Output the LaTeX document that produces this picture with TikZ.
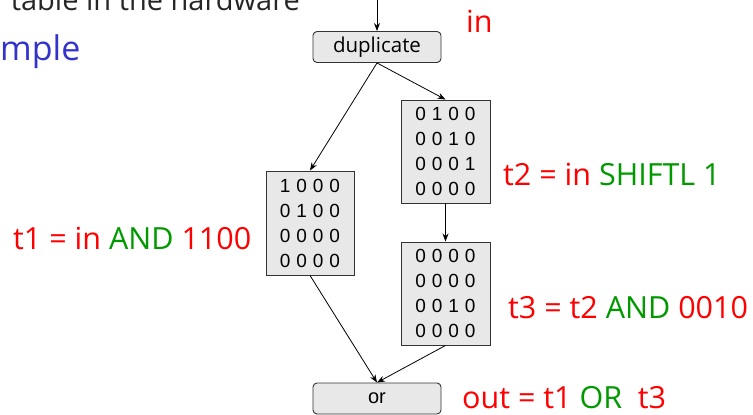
\documentclass[tikz,border=0pt]{standalone}
\usepackage{fontspec}
\setmainfont{Open Sans}
\newfontfamily\matfont{Liberation Sans}
\usetikzlibrary{arrows.meta}
\definecolor{opred}{HTML}{FF0000}
\definecolor{opgreen}{HTML}{009900}
\definecolor{headblue}{HTML}{3333CC}
\definecolor{boxfill}{HTML}{E8E8E8}
\definecolor{boxline}{HTML}{333333}
\newcommand\mrow[4]{\makebox[16.5pt]{#1}\makebox[16.5pt]{#2}\makebox[16.5pt]{#3}\makebox[16.5pt]{#4}}
\tikzset{
  opbox/.style={draw=boxline, fill=boxfill, rounded corners=4pt, line width=0.9pt,
    minimum width=128pt, minimum height=31pt, inner sep=0pt},
  matbox/.style={draw=boxline, fill=boxfill, line width=0.9pt, inner sep=0pt,
    minimum width=89pt, minimum height=103pt, align=center,
    font=\matfont\fontsize{19}{25}\selectfont},
  flow/.style={-{Stealth[length=8pt,width=6pt]}, line width=0.8pt},
  eqlabel/.style={font=\fontsize{30.5}{34}\selectfont, text=opred, inner sep=0pt, anchor=base west}
}
\begin{document}
\begin{tikzpicture}[x=1pt,y=-1pt]
  \useasboundingbox (0,0) rectangle (753,415);
  \clip (0,0) rectangle (753,415);

  % slide text behind the diagram
  \node[anchor=base east, inner sep=0pt, font=\fontsize{29}{34}\selectfont, text=black!85]
    (hdr) at (300,10) {table in the hardware};
  \node[anchor=base west, inner sep=0pt, font=\fontsize{34}{40}\selectfont, text=headblue]
    (sub) at (0,60) {mple};

  % operation boxes
  \node[opbox, font=\fontsize{20.5}{24}\selectfont] (dup) at (377,47) {duplicate};
  \node[opbox, font=\matfont\fontsize{20}{24}\selectfont] (orbox) at (377,398.5) {or};

  % bit matrices
  \node[matbox, minimum width=88pt, minimum height=104pt] (m1) at (310,223)
    {\mrow1000\\ \mrow0100\\ \mrow0000\\ \mrow0000};
  \node[matbox] (m2) at (445.5,151.5)
    {\mrow0100\\ \mrow0010\\ \mrow0001\\ \mrow0000};
  \node[matbox] (m3) at (445.5,293.5)
    {\mrow0000\\ \mrow0000\\ \mrow0010\\ \mrow0000};

  % data flow
  \coordinate (src) at (377,0);
  \draw[flow] (src) -- (dup.north);
  \draw[flow] (dup.south) -- (m1.north);
  \draw[flow] (dup.south) -- (m2.north);
  \draw[flow] (m2.south) -- (m3.north);
  \draw[flow] (m1.south) -- (orbox.north);
  \draw[flow] (m3.south) -- (orbox.north);

  % equations
  \node[eqlabel] (lin) at (466,32) {in};
  \node[eqlabel] (l1) at (13,249) {t1 = in \textcolor{opgreen}{AND} 1100};
  \node[eqlabel] (l2) at (503,185) {t2 = in \textcolor{opgreen}{SHIFTL 1}};
  \node[eqlabel] (l3) at (508,318) {t3 = t2 \textcolor{opgreen}{AND} 0010};
  \node[eqlabel] (lout) at (462,408) {out = t1 \textcolor{opgreen}{OR}\ \ t3};
\end{tikzpicture}
\end{document}
